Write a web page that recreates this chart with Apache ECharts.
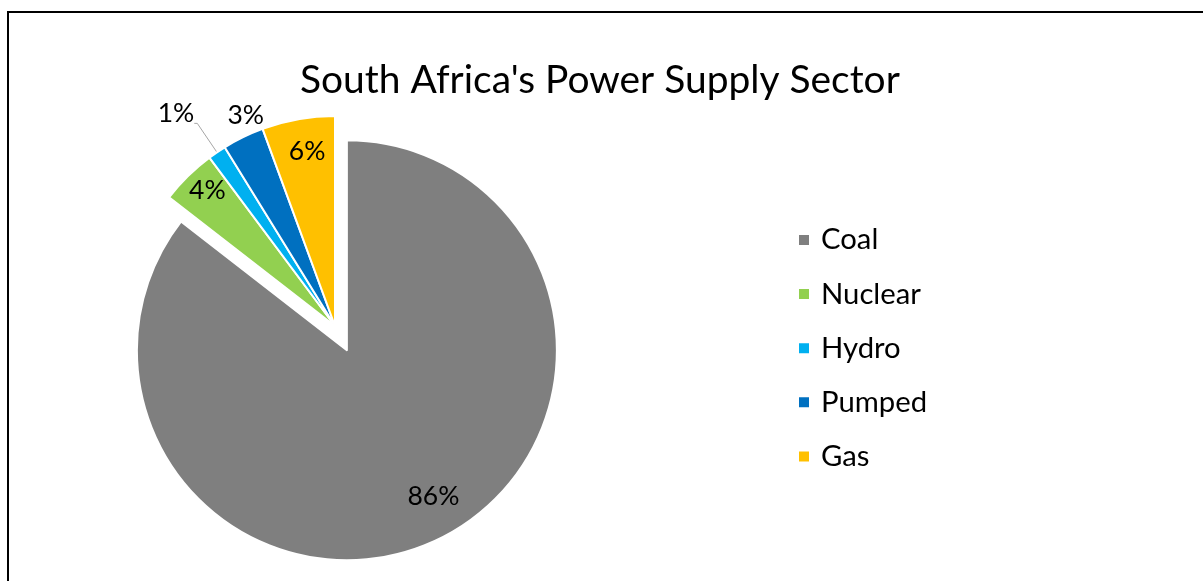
<!DOCTYPE html>
<html><head><meta charset="utf-8">
<script src="https://cdn.jsdelivr.net/npm/echarts@6/dist/echarts.min.js"></script>
<style>html,body{margin:0;padding:0;background:#fff}#chart{width:1203px;height:581px}</style>
</head><body><div id="chart"></div>
<script>
const titleText = "South Africa's Power Supply Sector";
const categories = ['Coal', 'Nuclear', 'Hydro', 'Pumped', 'Gas'];
const shares = [85.5, 4.3, 1.4, 3.2, 5.6];
const colors = ['#7f7f7f', '#92d050', '#00b0f0', '#0070c0', '#ffc000'];

const FONT = 'Lato';
function fit(text, target) {
  const c = document.createElement('canvas').getContext('2d');
  c.font = '100px ' + FONT;
  return 100 * target / c.measureText(text).width;
}
const titleSize = fit(titleText, 600);
const labelSize = fit('86%', 52);
const legendSize = fit('Nuclear', 100);

// label nudges (styling) relative to library-computed label positions
const labelShift = [[39, 49], [-52, -58], [0, 0], [-42, -113], [-9, -68]];
const outsideIdx = 2;

const data = categories.map((name, i) => {
  const item = { name, value: shares[i], itemStyle: { color: colors[i] } };
  if (i === 0) item.selected = true;
  if (i === outsideIdx) {
    item.label = { position: 'outside', formatter: '{d}%\n ', lineHeight: 20, distanceToLabelLine: 0 };
    item.labelLine = { show: true, length: 35, length2: 3, lineStyle: { color: '#a6a6a6', width: 1 } };
  }
  return item;
});

const chart = echarts.init(document.getElementById('chart'), null, { renderer: 'canvas' });
chart.setOption({
  animation: false,
  backgroundColor: '#fff',
  title: {
    text: titleText, left: 295, top: 80 - titleSize * 0.62,
    textStyle: { fontFamily: FONT, fontWeight: 'normal', fontSize: titleSize, color: '#000', lineHeight: titleSize }
  },
  legend: {
    orient: 'vertical', left: 792, top: 220, itemWidth: 12, itemHeight: 12, itemGap: 24.1,
    icon: 'rect', selectedMode: false,
    textStyle: { fontFamily: FONT, fontSize: legendSize, color: '#000', lineHeight: 30, padding: [0, 0, 0, 6] },
    data: categories
  },
  graphic: [{
    type: 'rect', shape: { x: 8, y: 12, width: 1400, height: 800 },
    style: { fill: 'none', stroke: '#000', lineWidth: 2 }, silent: true
  }],
  series: [{
    type: 'pie',
    center: [335, 326], radius: 210,
    startAngle: 90, clockwise: true,
    selectedMode: 'multiple', selectedOffset: 27,
    avoidLabelOverlap: false,
    percentPrecision: 0,
    emphasis: { disabled: true },
    itemStyle: { borderColor: '#fff', borderWidth: 2 },
    label: {
      show: true, position: 'inside', formatter: '{d}%',
      fontFamily: FONT, fontSize: labelSize, color: '#000'
    },
    labelLine: { show: false },
    labelLayout: function (p) {
      const s = labelShift[p.dataIndex];
      return { dx: s[0], dy: s[1] };
    },
    data: data
  }]
});
</script></body></html>
